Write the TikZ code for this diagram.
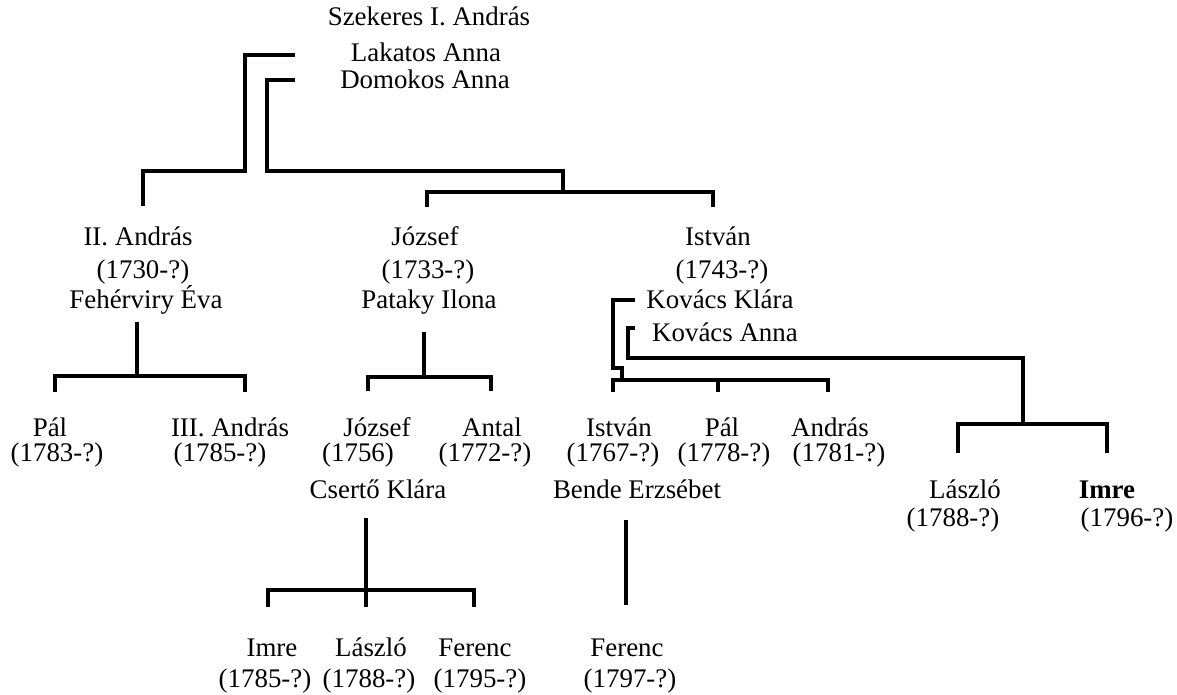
\documentclass[tikz,border=0pt]{standalone}
\usepackage{fontspec}
\setmainfont{Liberation Serif}
\tikzset{
  person/.style = {inner sep=0, anchor=base, font=\fontsize{15.3}{18}\selectfont},
  bold person/.style = {person, font=\fontsize{15.3}{18}\selectfont\bfseries},
  family/.style = {line width=2.8pt, line join=miter},
}
\begin{document}
\begin{tikzpicture}[x=0.02cm, y=-0.02cm]
\useasboundingbox (0,0) rectangle (1177,695);
% parents
\node[person] (szekeres) at (429,26) {Szekeres I. András};
\node[person] (lakatos) at (426,62) {Lakatos Anna};
\node[person] (domokos) at (425,89) {Domokos Anna};
% second generation
\node[person] (andrasII) at (138,246) {II. András};
\node[person] (andrasIIy) at (143,279) {(1730-?)};
\node[person] (feherviry) at (146,309) {Fehérviry Éva};
\node[person] (jozsef) at (425,246) {József};
\node[person] (jozsefy) at (428,279) {(1733-?)};
\node[person] (pataky) at (429,309) {Pataky Ilona};
\node[person] (istvan) at (718,246) {István};
\node[person] (istvany) at (722,279) {(1743-?)};
\node[person] (klara) at (720,309) {Kovács Klára};
\node[person] (anna) at (725,342) {Kovács Anna};
% third generation
\node[person] (pal) at (50,437) {Pál};
\node[person] (paly) at (57,462) {(1783-?)};
\node[person] (andrasIII) at (230,437) {III. András};
\node[person] (andrasIIIy) at (220,462) {(1785-?)};
\node[person] (jozsef2) at (377,437) {József};
\node[person] (jozsef2y) at (358,462) {(1756)};
\node[person] (cserto) at (378,499) {Csertő Klára};
\node[person] (antal) at (492,437) {Antal};
\node[person] (antaly) at (485,462) {(1772-?)};
\node[person] (istvan2) at (619,437) {István};
\node[person] (istvan2y) at (613,462) {(1767-?)};
\node[person] (bende) at (637,499) {Bende Erzsébet};
\node[person] (pal2) at (722,437) {Pál};
\node[person] (pal2y) at (724,462) {(1778-?)};
\node[person] (andras4) at (830,437) {András};
\node[person] (andras4y) at (839,462) {(1781-?)};
\node[person] (laszlo) at (965,499) {László};
\node[person] (laszloy) at (953,527) {(1788-?)};
\node[bold person] (imre) at (1107,499) {Imre};
\node[person] (imrey) at (1127,527) {(1796-?)};
% fourth generation
\node[person] (imre2) at (272,657) {Imre};
\node[person] (imre2y) at (265,687) {(1785-?)};
\node[person] (laszlo2) at (371,657) {László};
\node[person] (laszlo2y) at (369,687) {(1788-?)};
\node[person] (ferenc) at (475,657) {Ferenc};
\node[person] (ferency) at (480,687) {(1795-?)};
\node[person] (ferenc2) at (627,657) {Ferenc};
\node[person] (ferenc2y) at (630,687) {(1797-?)};

% line ends and joints
\coordinate (lakatos-r) at (295,55);
\coordinate (domokos-r) at (295,80);
\coordinate (gen1-a) at (245,171);
\coordinate (gen1-b) at (267,171);
\coordinate (andrasII-t) at (143,206);
\coordinate (sons-j) at (563,192);
\coordinate (jozsef-t) at (427,207);
\coordinate (istvan-t) at (713,207);
\coordinate (feh-b) at (137,322);
\coordinate (feh-j) at (137,376);
\coordinate (pal-t) at (55,392);
\coordinate (andrasIII-t) at (245,392);
\coordinate (pat-b) at (424,332);
\coordinate (pat-j) at (424,377);
\coordinate (jozsef2-t) at (368,391);
\coordinate (antal-t) at (491,391);
\coordinate (klara-l) at (635,300);
\coordinate (klara-j) at (613,368);
\coordinate (klara-k) at (622,380);
\coordinate (istvan2-t) at (613,392);
\coordinate (pal2-t) at (718,392);
\coordinate (andras4-t) at (828,392);
\coordinate (anna-l) at (635,328);
\coordinate (anna-j) at (628,358);
\coordinate (anna-k) at (1023,424);
\coordinate (laszlo-t) at (958,453);
\coordinate (imre-t) at (1107,453);
\coordinate (cserto-b) at (366,518);
\coordinate (cserto-j) at (366,590);
\coordinate (imre2-t) at (268,607);
\coordinate (laszlo2-t) at (366,607);
\coordinate (ferenc-t) at (474,607);
\coordinate (bende-b) at (626,520);
\coordinate (ferenc2-t) at (626,605);

\draw[family] (lakatos-r) -| (gen1-a) -| (andrasII-t);
\draw[family] (domokos-r) -| (gen1-b) -| (sons-j);
\draw[family] (jozsef-t) |- (sons-j) -| (istvan-t);
\draw[family] (feh-b) -- (feh-j);
\draw[family] (pal-t) |- (feh-j) -| (andrasIII-t);
\draw[family] (pat-b) -- (pat-j);
\draw[family] (jozsef2-t) |- (pat-j) -| (antal-t);
\draw[family] (klara-l) -| (klara-j) -| (klara-k);
\draw[family] (istvan2-t) |- (klara-k) -| (andras4-t);
\draw[family] (pal2-t) -- (pal2-t |- klara-k);
\draw[family] (anna-l) -| (anna-j) -| (anna-k);
\draw[family] (laszlo-t) |- (anna-k) -| (imre-t);
\draw[family] (cserto-b) -- (laszlo2-t);
\draw[family] (imre2-t) |- (cserto-j) -| (ferenc-t);
\draw[family] (bende-b) -- (ferenc2-t);
\end{tikzpicture}
\end{document}
